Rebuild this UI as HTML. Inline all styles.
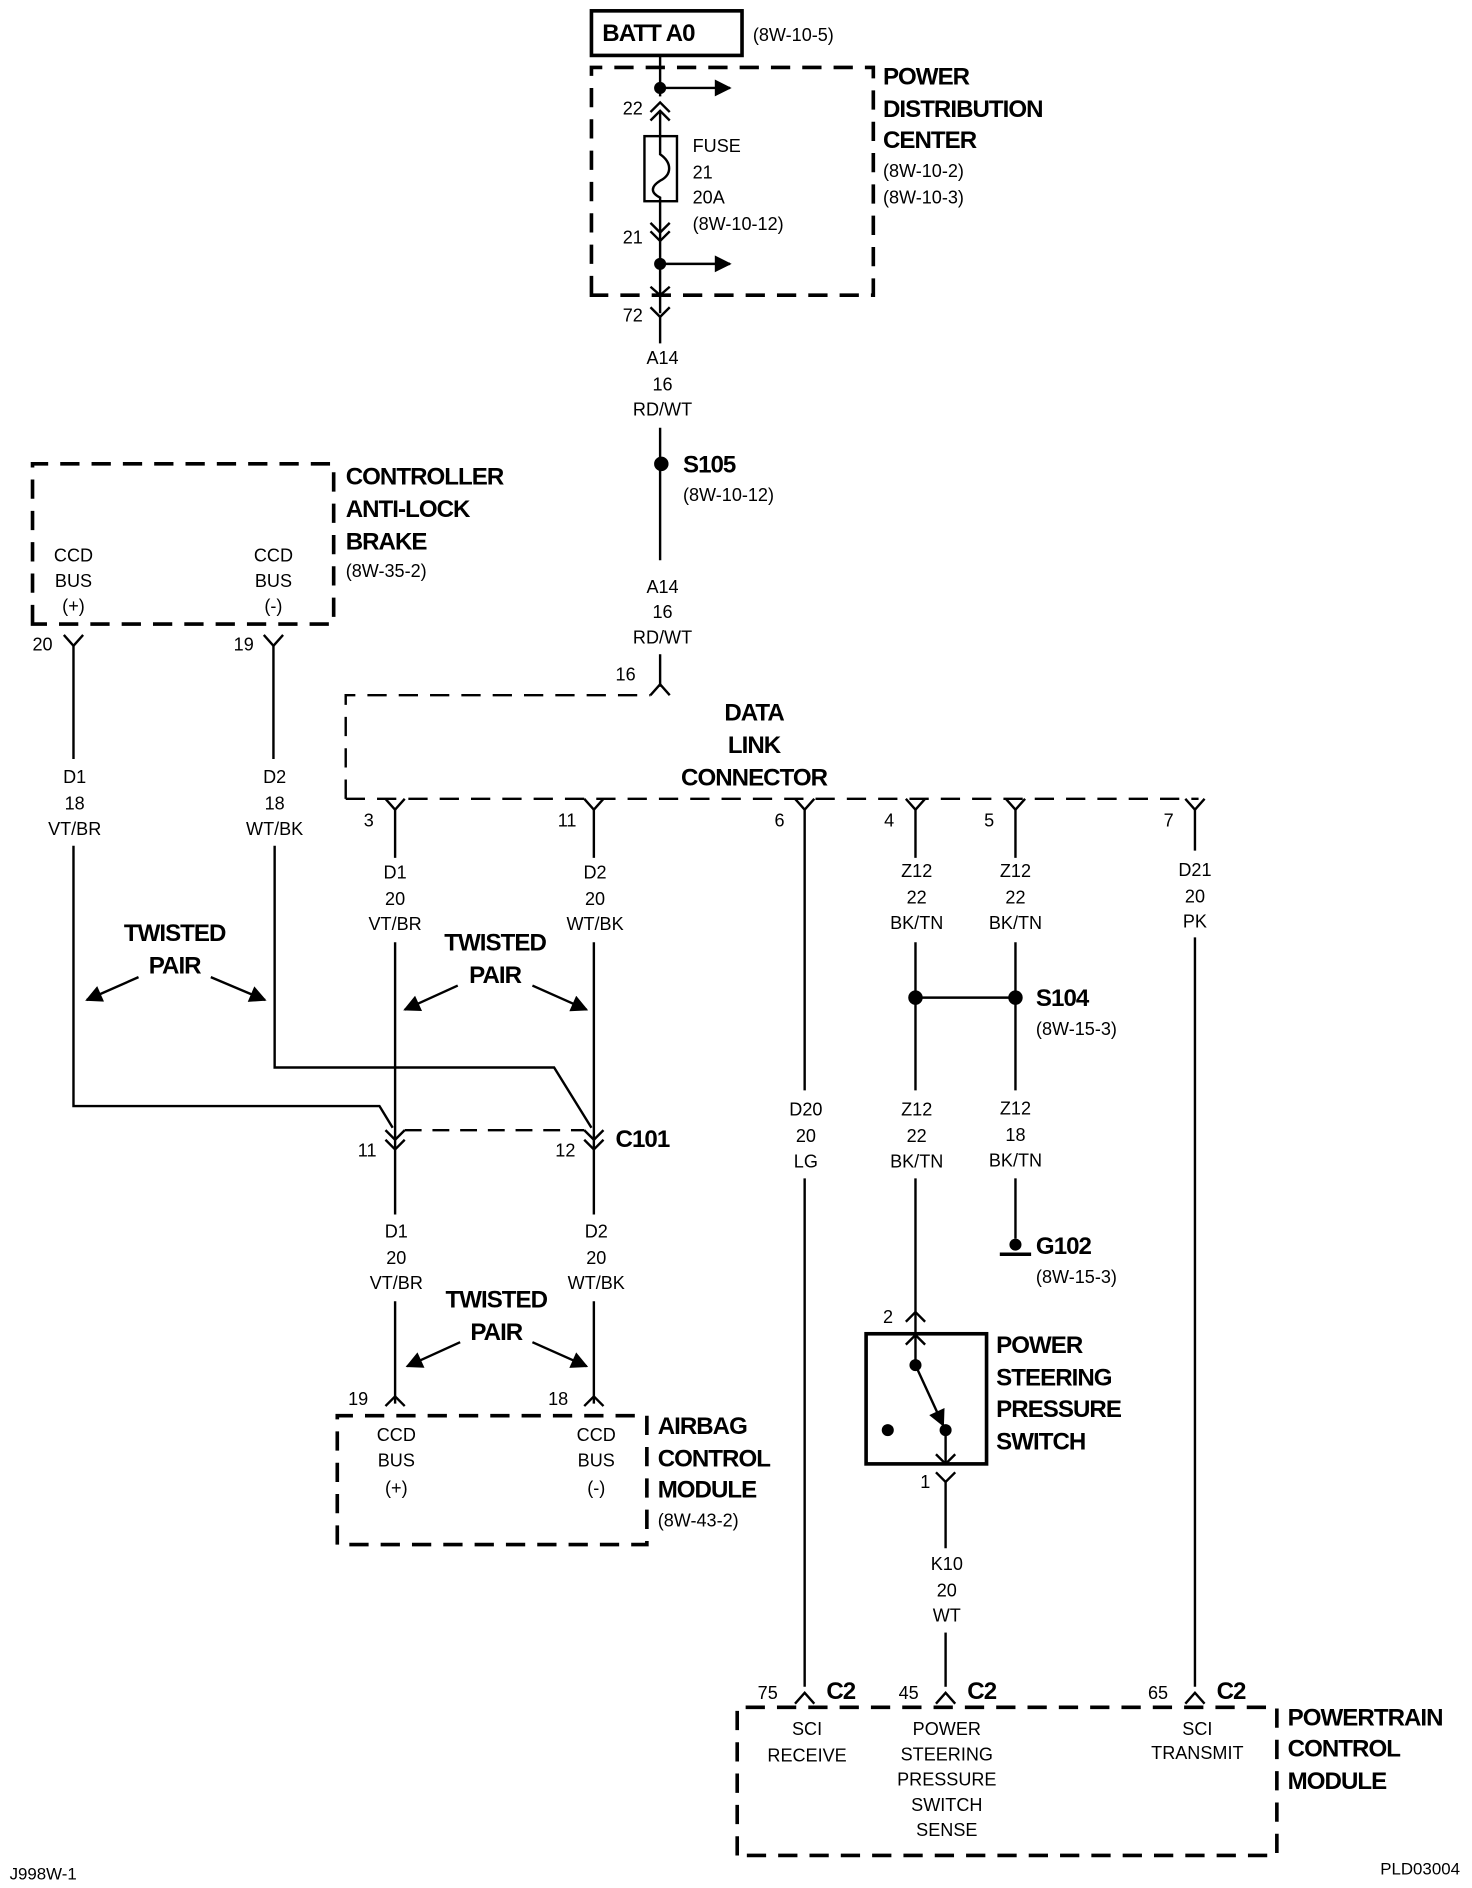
<!DOCTYPE html>
<html><head><meta charset="utf-8"><style>
html,body{margin:0;padding:0;background:#fff}
svg{display:block}
text{font-family:"Liberation Sans",sans-serif;fill:#000}
.t{font-size:15px}
.b{font-size:20px;font-weight:bold;letter-spacing:-0.8px}
.m{text-anchor:middle}
</style></head><body>
<svg width="1472" height="1888" viewBox="0 0 1222 1567" preserveAspectRatio="none" xmlns="http://www.w3.org/2000/svg">
<defs>
<marker id="ah" viewBox="0 0 10 10" refX="9" refY="5" markerWidth="18" markerHeight="14" orient="auto" markerUnits="userSpaceOnUse"><path d="M0,0 L10,5 L0,10 z" fill="#000"/></marker></defs>
<g fill="none" stroke="#000" stroke-width="2">
<rect x="491" y="9" width="125" height="37" stroke-width="3"/>
<path d="M491,245 L491,56 L725,56 L725,245 Z" stroke-width="3" stroke-dasharray="16,10"/>
<line x1="548" y1="46" x2="548" y2="80"/>
<line x1="548" y1="73" x2="606" y2="73" marker-end="url(#ah)"/>
<path d="M540,93 L548,85 L556,93 M540,100 L548,92 L556,100"/>
<line x1="548" y1="92" x2="548" y2="113"/>
<rect x="535" y="113" width="27" height="54"/>
<path d="M548,113 L548,128 C558,135 558,145 548,150 C540,155 540,160 548,164 L548,167"/>
<line x1="548" y1="167" x2="548" y2="260"/>
<path d="M540,185 L548,193 L556,185 M540,192 L548,200 L556,192"/>
<line x1="548" y1="219" x2="606" y2="219" marker-end="url(#ah)"/>
<path d="M540,238 L548,245 L556,238 M540,255 L548,263 L556,255"/>
<line x1="548" y1="263" x2="548" y2="285"/>
<line x1="548" y1="355" x2="548" y2="465"/>
<line x1="548" y1="543" x2="548" y2="570"/>
<path d="M540,577 L548,568 L556,577"/>
<path d="M287,663 L287,577 L540,577 M287,663 L995,663" stroke-dasharray="16,10"/>
<path d="M320,663 L328,672 L336,663 M485,663 L493,672 L501,663 M660,663 L668,672 L676,663 M752,663 L760,672 L768,663 M835,663 L843,672 L851,663 M984,663 L992,672 L1000,663"/>
<line x1="328" y1="672" x2="328" y2="712"/><line x1="493" y1="672" x2="493" y2="712"/>
<line x1="668" y1="672" x2="668" y2="905"/><line x1="668" y1="978" x2="668" y2="1400"/>
<line x1="760" y1="672" x2="760" y2="712"/><line x1="843" y1="672" x2="843" y2="712"/><line x1="992" y1="672" x2="992" y2="706"/>
<line x1="992" y1="778" x2="992" y2="1400"/>
<line x1="760" y1="782" x2="760" y2="905"/><line x1="843" y1="782" x2="843" y2="905"/>
<line x1="760" y1="828" x2="843" y2="828"/>
<line x1="760" y1="978" x2="760" y2="1107"/>
<line x1="843" y1="978" x2="843" y2="1028"/>
<line x1="830" y1="1041" x2="856" y2="1041" stroke-width="3"/>
<path d="M752,1097 L760,1089 L768,1097 M752,1116 L760,1108 L768,1116"/>
<rect x="719" y="1107" width="100" height="108" stroke-width="3"/>
<line x1="760" y1="1108" x2="760" y2="1133"/>
<line x1="760" y1="1133" x2="783" y2="1183" marker-end="url(#ah)"/>
<line x1="785" y1="1187" x2="785" y2="1215"/>
<path d="M777,1207 L785,1215 L793,1207 M777,1222 L785,1230 L793,1222"/>
<line x1="785" y1="1230" x2="785" y2="1285"/><line x1="785" y1="1355" x2="785" y2="1400"/>
<path d="M612,1540 L612,1417 L1060,1417 L1060,1540 Z" stroke-width="3" stroke-dasharray="16,10"/>
<path d="M660,1414 L668,1405 L676,1414 M777,1414 L785,1405 L793,1414 M984,1414 L992,1405 L1000,1414"/>
<path d="M27,518 L27,385 L277,385 L277,518 Z" stroke-width="3" stroke-dasharray="16,10"/>
<path d="M53,527 L61,536 L69,527 M219,527 L227,536 L235,527"/>
<line x1="61" y1="536" x2="61" y2="630"/><line x1="227" y1="536" x2="227" y2="630"/>
<path d="M61,702 L61,918 L315,918 L326,936"/>
<path d="M228,702 L228,886 L460,886 L491,936"/>
<line x1="328" y1="782" x2="328" y2="1008"/><line x1="493" y1="782" x2="493" y2="1008"/>
<path d="M320,938 L328,946 L336,938 M320,946 L328,954 L336,946 M485,938 L493,946 L501,938 M485,946 L493,954 L501,946"/>
<line x1="336" y1="938" x2="485" y2="938" stroke-dasharray="14,9"/>
<line x1="328" y1="1080" x2="328" y2="1165"/><line x1="493" y1="1080" x2="493" y2="1165"/>
<path d="M320,1167 L328,1159 L336,1167 M485,1167 L493,1159 L501,1167"/>
<path d="M280,1282 L280,1175 L537,1175 L537,1282 Z" stroke-width="3" stroke-dasharray="16,10"/>
<line x1="115" y1="811" x2="72" y2="830" marker-end="url(#ah)"/>
<line x1="175" y1="811" x2="220" y2="830" marker-end="url(#ah)"/>
<line x1="380" y1="818" x2="336" y2="838" marker-end="url(#ah)"/>
<line x1="442" y1="818" x2="487" y2="838" marker-end="url(#ah)"/>
<line x1="382" y1="1114" x2="338" y2="1134" marker-end="url(#ah)"/>
<line x1="442" y1="1114" x2="487" y2="1134" marker-end="url(#ah)"/>
</g>
<g fill="#000">
<circle cx="548" cy="73" r="5"/><circle cx="548" cy="219" r="5"/>
<circle cx="549" cy="385" r="6"/>
<circle cx="760" cy="828" r="6"/><circle cx="843" cy="828" r="6"/>
<circle cx="843" cy="1033" r="5"/>
<circle cx="760" cy="1133" r="5"/><circle cx="785" cy="1187" r="5"/><circle cx="737" cy="1187" r="5"/>
</g>
<text class="b" x="500" y="34">BATT A0</text>
<text class="t" x="625" y="34">(8W-10-5)</text>
<text class="b" x="733" y="70">POWER</text><text class="b" x="733" y="97">DISTRIBUTION</text><text class="b" x="733" y="123">CENTER</text>
<text class="t" x="733" y="147">(8W-10-2)</text><text class="t" x="733" y="169">(8W-10-3)</text>
<text class="t" x="517" y="95">22</text><text class="t" x="517" y="202">21</text><text class="t" x="517" y="267">72</text>
<text class="t" x="575" y="126">FUSE</text><text class="t" x="575" y="148">21</text><text class="t" x="575" y="169">20A</text><text class="t" x="575" y="191">(8W-10-12)</text>
<text class="t m" x="550" y="302">A14</text><text class="t m" x="550" y="324">16</text><text class="t m" x="550" y="345">RD/WT</text>
<text class="t m" x="550" y="492">A14</text><text class="t m" x="550" y="513">16</text><text class="t m" x="550" y="534">RD/WT</text>
<text class="b" x="567" y="392">S105</text><text class="t" x="567" y="416">(8W-10-12)</text>
<text class="t" x="511" y="565">16</text>
<text class="b m" x="626" y="598">DATA</text><text class="b m" x="626" y="625">LINK</text><text class="b m" x="626" y="652">CONNECTOR</text>
<text class="t" x="302" y="686">3</text><text class="t" x="463" y="686">11</text><text class="t" x="643" y="686">6</text><text class="t" x="734" y="686">4</text><text class="t" x="817" y="686">5</text><text class="t" x="966" y="686">7</text>
<text class="t m" x="328" y="729">D1</text><text class="t m" x="328" y="751">20</text><text class="t m" x="328" y="772">VT/BR</text>
<text class="t m" x="494" y="729">D2</text><text class="t m" x="494" y="751">20</text><text class="t m" x="494" y="772">WT/BK</text>
<text class="t m" x="761" y="728">Z12</text><text class="t m" x="761" y="750">22</text><text class="t m" x="761" y="771">BK/TN</text>
<text class="t m" x="843" y="728">Z12</text><text class="t m" x="843" y="750">22</text><text class="t m" x="843" y="771">BK/TN</text>
<text class="t m" x="992" y="727">D21</text><text class="t m" x="992" y="749">20</text><text class="t m" x="992" y="770">PK</text>
<text class="b" x="860" y="835">S104</text><text class="t" x="860" y="859">(8W-15-3)</text>
<text class="t m" x="669" y="926">D20</text><text class="t m" x="669" y="948">20</text><text class="t m" x="669" y="969">LG</text>
<text class="t m" x="761" y="926">Z12</text><text class="t m" x="761" y="948">22</text><text class="t m" x="761" y="969">BK/TN</text>
<text class="t m" x="843" y="925">Z12</text><text class="t m" x="843" y="947">18</text><text class="t m" x="843" y="968">BK/TN</text>
<text class="b" x="860" y="1041">G102</text><text class="t" x="860" y="1065">(8W-15-3)</text>
<text class="t" x="733" y="1098">2</text><text class="t" x="764" y="1235">1</text>
<text class="b" x="827" y="1123">POWER</text><text class="b" x="827" y="1150">STEERING</text><text class="b" x="827" y="1176">PRESSURE</text><text class="b" x="827" y="1203">SWITCH</text>
<text class="t m" x="786" y="1303">K10</text><text class="t m" x="786" y="1325">20</text><text class="t m" x="786" y="1346">WT</text>
<text class="t" x="629" y="1410">75</text><text class="b" x="686" y="1410">C2</text>
<text class="t" x="746" y="1410">45</text><text class="b" x="803" y="1410">C2</text>
<text class="t" x="953" y="1410">65</text><text class="b" x="1010" y="1410">C2</text>
<text class="t m" x="670" y="1440">SCI</text><text class="t m" x="670" y="1462">RECEIVE</text>
<text class="t m" x="786" y="1440">POWER</text><text class="t m" x="786" y="1461">STEERING</text><text class="t m" x="786" y="1482">PRESSURE</text><text class="t m" x="786" y="1503">SWITCH</text><text class="t m" x="786" y="1524">SENSE</text>
<text class="t m" x="994" y="1440">SCI</text><text class="t m" x="994" y="1460">TRANSMIT</text>
<text class="b" x="1069" y="1432">POWERTRAIN</text><text class="b" x="1069" y="1458">CONTROL</text><text class="b" x="1069" y="1485">MODULE</text>
<text class="b" x="287" y="402">CONTROLLER</text><text class="b" x="287" y="429">ANTI-LOCK</text><text class="b" x="287" y="456">BRAKE</text><text class="t" x="287" y="479">(8W-35-2)</text>
<text class="t m" x="61" y="466">CCD</text><text class="t m" x="61" y="487">BUS</text><text class="t m" x="61" y="508">(+)</text>
<text class="t m" x="227" y="466">CCD</text><text class="t m" x="227" y="487">BUS</text><text class="t m" x="227" y="508">(-)</text>
<text class="t" x="27" y="540">20</text><text class="t" x="194" y="540">19</text>
<text class="t m" x="62" y="650">D1</text><text class="t m" x="62" y="672">18</text><text class="t m" x="62" y="693">VT/BR</text>
<text class="t m" x="228" y="650">D2</text><text class="t m" x="228" y="672">18</text><text class="t m" x="228" y="693">WT/BK</text>
<text class="b m" x="145" y="781">TWISTED</text><text class="b m" x="145" y="808">PAIR</text>
<text class="b m" x="411" y="789">TWISTED</text><text class="b m" x="411" y="816">PAIR</text>
<text class="b m" x="412" y="1085">TWISTED</text><text class="b m" x="412" y="1112">PAIR</text>
<text class="t" x="297" y="960">11</text><text class="t" x="461" y="960">12</text><text class="b" x="511" y="952">C101</text>
<text class="t m" x="329" y="1027">D1</text><text class="t m" x="329" y="1049">20</text><text class="t m" x="329" y="1070">VT/BR</text>
<text class="t m" x="495" y="1027">D2</text><text class="t m" x="495" y="1049">20</text><text class="t m" x="495" y="1070">WT/BK</text>
<text class="t" x="289" y="1166">19</text><text class="t" x="455" y="1166">18</text>
<text class="t m" x="329" y="1196">CCD</text><text class="t m" x="329" y="1217">BUS</text><text class="t m" x="329" y="1240">(+)</text>
<text class="t m" x="495" y="1196">CCD</text><text class="t m" x="495" y="1217">BUS</text><text class="t m" x="495" y="1240">(-)</text>
<text class="b" x="546" y="1190">AIRBAG</text><text class="b" x="546" y="1217">CONTROL</text><text class="b" x="546" y="1243">MODULE</text><text class="t" x="546" y="1267">(8W-43-2)</text>
<text class="t" x="8" y="1560" style="font-size:14px">J998W-1</text>
<text class="t" x="1212" y="1556" text-anchor="end" style="font-size:14px">PLD03004</text>
</svg>
</body></html>
